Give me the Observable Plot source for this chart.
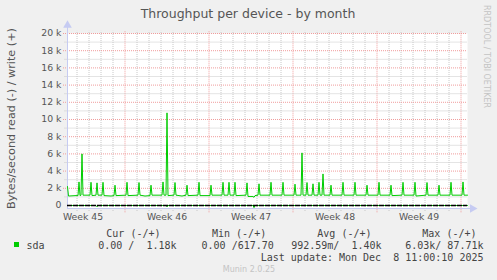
<!DOCTYPE html>
<html>
<head>
<meta charset="utf-8">
<script src="https://cdn.jsdelivr.net/npm/d3@7"></script>
<script src="https://cdn.jsdelivr.net/npm/@observablehq/plot@0.6"></script>
<style>
  html, body { margin: 0; padding: 0; background: #f0f0f0; }
  #chart { width: 497px; height: 280px; }
</style>
</head>
<body>
<div id="chart"></div>
<script>
// ---- data (times are 2025, UTC, "MM-DDTHH") ----
const writeTimes = [
  "11-05T05","11-05T07","11-05T22","11-06T02","11-06T04","11-06T06","11-06T08","11-06T10","11-06T12",
  "11-07T02","11-07T04","11-07T06","11-07T14","11-07T16","11-07T18","11-08T02","11-08T04","11-08T06","11-08T20",
  "11-09T02","11-09T04","11-09T06","11-10T02","11-10T04","11-10T06","11-11T02","11-11T04","11-11T06","11-11T16",
  "11-12T02","11-12T04","11-12T06","11-13T02","11-13T04","11-13T06","11-13T10","11-13T12","11-13T14",
  "11-14T02","11-14T04","11-14T06","11-14T18","11-15T02","11-15T04","11-15T06","11-16T02","11-16T04","11-16T06",
  "11-17T02","11-17T04","11-17T06","11-18T02","11-18T04","11-18T06","11-18T14","11-18T16","11-18T18",
  "11-19T02","11-19T04","11-19T06","11-20T02","11-20T04","11-20T06","11-20T16","11-20T18","11-20T20",
  "11-21T02","11-21T04","11-21T06","11-22T02","11-22T04","11-22T06","11-23T02","11-23T04","11-23T06",
  "11-24T02","11-24T04","11-24T06","11-24T16","11-24T18","11-24T20","11-25T02","11-25T04","11-25T06",
  "11-25T14","11-25T16","11-25T18","11-26T02","11-26T04","11-26T06","11-26T10","11-26T12","11-26T14",
  "11-27T02","11-27T04","11-27T06","11-28T02","11-28T04","11-28T06","11-29T02","11-29T04","11-29T06",
  "11-30T02","11-30T04","11-30T06","12-01T02","12-01T04","12-01T06","12-02T02","12-02T04","12-02T06",
  "12-03T02","12-03T04","12-03T06","12-04T02","12-04T04","12-04T06","12-05T02","12-05T04","12-05T06",
  "12-06T02","12-06T04","12-06T06","12-07T02","12-07T04","12-07T06","12-08T02","12-08T04","12-08T06","12-08T13"
];
const writeValues = [
  2200,1100,1150,1150,2740,1150,1200,6000,1200,
  1200,2700,1150,1200,2630,1200,1200,2700,1150,1100,
  1150,2360,1150,1200,2700,1150,1200,2670,1200,1100,
  1150,2360,1200,1200,2740,1200,1200,10770,1150,
  1200,2670,1200,1100,1200,2360,1150,1200,2700,1150,
  1150,2360,1200,1200,2700,1200,1200,2700,1200,
  1200,2700,1150,1200,2630,1050,1050,950,1150,
  1200,2520,1200,1200,2700,1200,1200,2700,1200,
  1200,2480,1200,1200,6120,1200,1200,2670,1200,
  1200,2520,1200,1200,2700,1200,1200,3670,1200,
  1200,2360,1200,1200,2700,1200,1200,2700,1200,
  1200,2360,1200,1200,2700,1200,1200,2360,1150,
  1200,2700,1200,1200,2700,1100,1200,2670,1200,
  1200,2360,1200,1200,2700,1200,1200,2740,1200,1200
];
const readTimes  = ["11-05T05","11-07T14","11-07T16","11-07T18","11-13T10","11-13T12","11-13T14","11-20T16","11-20T18","11-20T20","12-08T13"];
const readValues = [0, 0, -150, 0, 0, -150, 0, 0, -250, 0, 0];

const yTicks = [0, 2000, 4000, 6000, 8000, 10000, 12000, 14000, 16000, 18000, 20000];
const yTickLabels = ["0", "2 k", "4 k", "6 k", "8 k", "10 k", "12 k", "14 k", "16 k", "18 k", "20 k"];
const yMinor = [1000, 3000, 5000, 7000, 9000, 11000, 13000, 15000, 17000, 19000];
const weekLabels = ["Week 45", "Week 46", "Week 47", "Week 48", "Week 49"];
const weekLabelTimes = ["11-06T12", "11-13T12", "11-20T12", "11-27T12", "12-04T12"];

const legendHeaders = ["Cur (-/+)", "Min (-/+)", "Avg (-/+)", "Max (-/+)"];
const legendValues = ["0.00 /  1.18k", "0.00 /617.70", "992.59m/  1.40k", "6.03k/ 87.71k"];
const seriesName = "sda";
const lastUpdate = "Last update: Mon Dec  8 11:00:10 2025";

// ---- helpers ----
const parse = d3.utcParse("%Y-%m-%dT%H");
const t = s => parse("2025-" + s);
const start = t("11-05T05"), end = t("12-08T13");
const H = 3600 * 1000;

const writeData = writeTimes.map((s, i) => ({time: t(s), value: writeValues[i]}));
const readData = readTimes.map((s, i) => ({time: t(s), value: readValues[i]}));
const days = d3.utcDay.range(t("11-06T00"), end);
const minorDays = days.filter(d => d.getUTCDay() !== 1);
const mondays = days.filter(d => d.getUTCDay() === 1);

const GREEN = "#00cc00";
const AXIS = "#c6cbf2";
const MINOR = "#c8c8c8";
const MAJOR = "#f09c9c";

const svg = Plot.plot({
  width: 497,
  height: 280,
  marginLeft: 67,
  marginRight: 30,
  marginTop: 33,
  marginBottom: 72,
  x: {type: "utc", domain: [start, end]},
  y: {domain: [-350, 20000]},
  style: {background: "#f0f0f0", fontFamily: "DejaVu Sans", fontSize: "9.3px", color: "#555555"},
  marks: [
    Plot.frame({fill: "white", stroke: "none"}),
    // vertical grid
    Plot.ruleX(minorDays, {y1: -700, y2: 20250, stroke: MINOR, strokeDasharray: "1,1"}),
    Plot.ruleX(mondays, {y1: -850, y2: 20250, stroke: MAJOR, strokeDasharray: "1,1"}),
    // horizontal grid
    Plot.ruleY(yMinor, {x1: new Date(+start - 5 * H), x2: end, stroke: MINOR, strokeDasharray: "1,1"}),
    Plot.ruleY(yTicks.filter(d => d > 0), {x1: new Date(+start - 8 * H), x2: end, stroke: MAJOR, strokeDasharray: "1,1"}),
    // axis lines + arrows
    Plot.ruleX([start], {y1: -350, y2: 20750, stroke: AXIS}),
    Plot.ruleY([-350], {x1: start, x2: new Date(+end + 8 * H), stroke: AXIS}),
    Plot.dot([{x: start, y: 20950}], {x: "x", y: "y", symbol: "triangle", r: 3.2, fill: AXIS, stroke: "none"}),
    Plot.dot([{x: new Date(+end + 10 * H), y: -350}], {x: "x", y: "y", symbol: "triangle", r: 3.2, fill: AXIS, stroke: "none", rotate: 90}),
    // series
    Plot.line(readData, {x: "time", y: "value", stroke: GREEN, strokeWidth: 1}),
    Plot.ruleY([0], {x1: start, x2: end, stroke: "#000000", strokeWidth: 1.6, strokeDasharray: "5,1"}),
    Plot.line(writeData, {x: "time", y: "value", stroke: GREEN, strokeWidth: 1}),
    // axes
    Plot.axisY({ticks: yTicks, tickFormat: d => yTickLabels[yTicks.indexOf(d)], tickSize: 0, tickPadding: 6, label: null}),
    Plot.axisX({ticks: weekLabelTimes.map(t), tickFormat: (d, i) => weekLabels[i], tickSize: 0, tickPadding: 5, label: null})
  ]
});

const s = d3.select(svg);
const txt = (x, y, str, o = {}) => s.append("text")
  .attr("x", x).attr("y", y)
  .attr("font-family", o.family || "DejaVu Sans")
  .attr("font-size", o.size || 10)
  .attr("fill", o.fill || "#444444")
  .attr("text-anchor", o.anchor || "start")
  .style("white-space", "pre")
  .attr("xml:space", "preserve")
  .text(str);

// title
txt(248, 17.5, "Throughput per device - by month", {size: 12.5, anchor: "middle", fill: "#555555"});
// y label
s.append("text")
  .attr("transform", "translate(15,118.5) rotate(-90)")
  .attr("text-anchor", "middle")
  .attr("font-family", "DejaVu Sans").attr("font-size", 11.2).attr("fill", "#555555")
  .text("Bytes/second read (-) / write (+)");
// watermark
s.append("text")
  .attr("transform", "translate(483.8,5) rotate(90)")
  .attr("text-anchor", "start")
  .attr("font-family", "DejaVu Sans").attr("font-size", 8).attr("fill", "#c4c4c4")
  .text("RRDTOOL / TOBI OETIKER");

// legend
const MONO = "DejaVu Sans Mono";
const headerEnds = [160.5, 266.2, 371.5, 476.5];
const valueEnds = [176.5, 273.8, 381.5, 483.5];
legendHeaders.forEach((h, i) => txt(headerEnds[i], 236.5, h, {family: MONO, anchor: "end"}));
legendValues.forEach((v, i) => txt(valueEnds[i], 248.6, v, {family: MONO, anchor: "end"}));
s.append("rect").attr("x", 14).attr("y", 242).attr("width", 5).attr("height", 5).attr("fill", GREEN);
txt(26.5, 248.6, seriesName, {family: MONO});
txt(483.5, 260.6, lastUpdate, {family: MONO, anchor: "end"});
txt(249, 272, "Munin 2.0.25", {size: 8, anchor: "middle", fill: "#c4c4c4"});

document.getElementById("chart").appendChild(svg);
</script>
</body>
</html>
